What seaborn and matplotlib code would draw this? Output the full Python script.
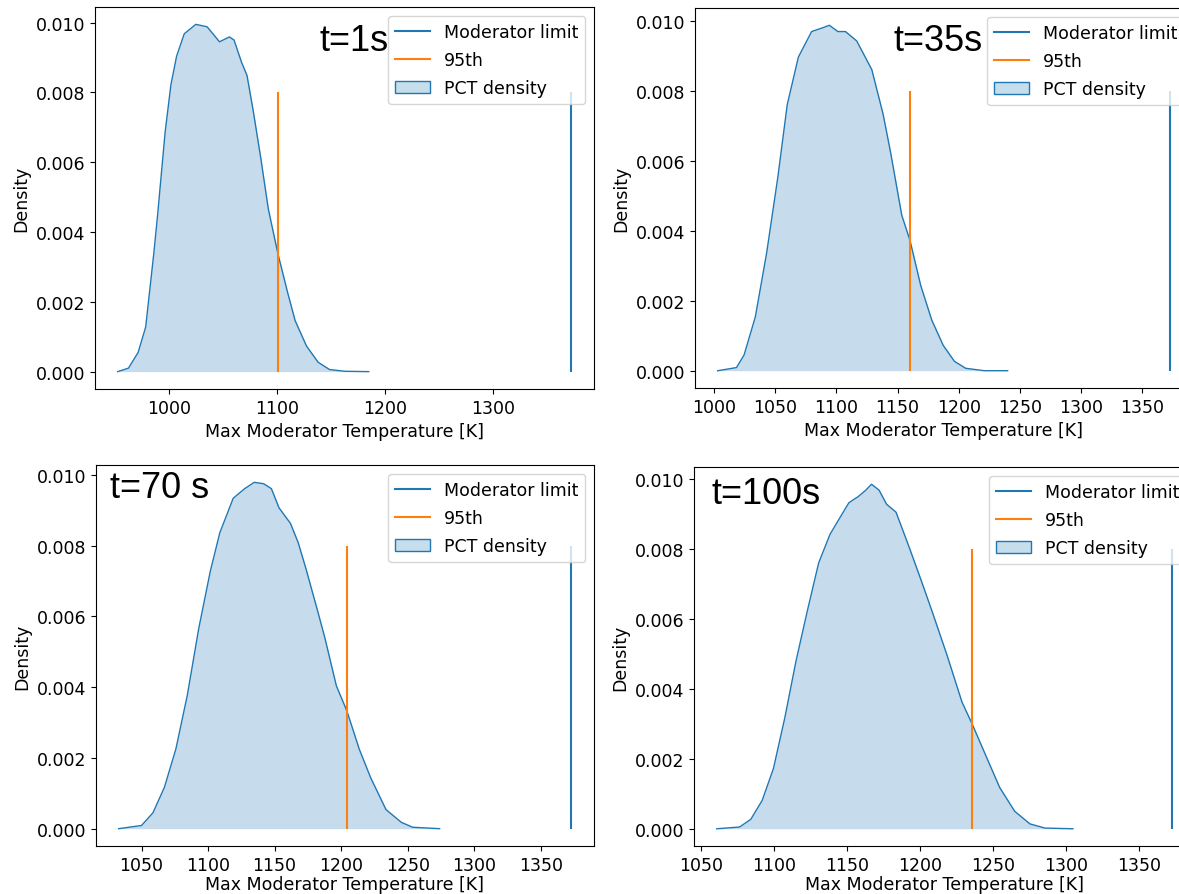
import numpy as np
import pandas as pd
import seaborn as sns
import matplotlib.pyplot as plt
from matplotlib.lines import Line2D
from matplotlib.patches import Patch

############## Data ##############

# Labels of the four time steps
time_labels = ['t=1s', 't=35s', 't=70 s', 't=100s']

# PCT density curves (temperature in K / density)
t1_temp = [952, 962, 971, 978, 985.5, 989, 996, 1001.4, 1006.7, 1013.8, 1024.5, 1035,
           1040.4, 1046.5, 1055.7, 1060, 1067, 1072, 1077.7, 1084.8, 1091.8, 1100.7,
           1109.6, 1116.7, 1127.3, 1138, 1148.6, 1162.8, 1185]
t1_density = [0.0, 0.0001, 0.00055, 0.00128, 0.00338, 0.00447, 0.00685, 0.00822, 0.00904,
              0.00968, 0.00995, 0.00988, 0.00968, 0.00945, 0.00959, 0.0095, 0.00886,
              0.00849, 0.00749, 0.00612, 0.00466, 0.00338, 0.00228, 0.00146, 0.00073,
              0.00027, 0.00006, 0.00001, 0.0]

t35_temp = [1003, 1018.4, 1024.6, 1033.8, 1043, 1052.2, 1059.9, 1069, 1079.8, 1089,
            1094.3, 1101.3, 1107.5, 1116.7, 1129, 1138.2, 1144.3, 1153.5, 1160.3, 1168.9,
            1178, 1187.3, 1196.5, 1205.7, 1221, 1240]
t35_density = [0.0, 0.00009, 0.00045, 0.00154, 0.00336, 0.00554, 0.00762, 0.00898, 0.00971,
               0.00982, 0.00989, 0.00971, 0.00971, 0.00944, 0.00862, 0.00735, 0.00626,
               0.00445, 0.00372, 0.00245, 0.00145, 0.00073, 0.00027, 0.00007, 0.0, 0.0]

t70_temp = [1032.8, 1050, 1058.6, 1067.2, 1075.8, 1084.4, 1093, 1101.7, 1108.8, 1118.9,
            1127.5, 1134.7, 1141.8, 1147.6, 1153.3, 1161.9, 1167.7, 1173.4, 1182, 1187.8,
            1196.4, 1204.4, 1213.6, 1222.2, 1233.7, 1245.2, 1253.8, 1274]
t70_density = [0.0, 0.00009, 0.00045, 0.00117, 0.00225, 0.00377, 0.00566, 0.00728, 0.00836,
               0.00934, 0.00961, 0.00979, 0.00975, 0.00961, 0.00907, 0.00863, 0.00809,
               0.00737, 0.0062, 0.00539, 0.00404, 0.00332, 0.00225, 0.00144, 0.00054,
               0.00018, 0.00004, 0.0]

t100_temp = [1061, 1076.6, 1084.3, 1092.1, 1099.8, 1107.6, 1115.3, 1123.1, 1130.8, 1138.6,
             1146.3, 1151.5, 1158, 1163.1, 1167, 1172.2, 1177.3, 1183.8, 1192.8, 1200.6,
             1208.3, 1218.6, 1229, 1236, 1244.5, 1254.8, 1265.1, 1275.5, 1285.8, 1305]
t100_density = [0.0, 0.00005, 0.00027, 0.00081, 0.00172, 0.00317, 0.0048, 0.00624, 0.0076,
                0.00842, 0.00896, 0.00932, 0.0095, 0.00968, 0.00985, 0.00968, 0.00928,
                0.00905, 0.00805, 0.00715, 0.00624, 0.00498, 0.00362, 0.00299, 0.00217,
                0.00118, 0.0005, 0.00014, 0.00002, 0.0]

# 95th percentile of each time step and the moderator limit
p95 = [1100.5, 1160, 1204.5, 1236]
moderator_limit = 1373
line_top = 0.008

curves = [(t1_temp, t1_density), (t35_temp, t35_density),
          (t70_temp, t70_density), (t100_temp, t100_density)]

############## Layout ##############

W, H = 1179, 895
# axes boxes in pixels: left, top, right, bottom
boxes = [(95, 8, 594, 390), (695, 9, 1193, 389),
         (96, 466, 594, 847), (694, 468, 1195, 847)]
# position of the time label in axes coordinates
label_pos = [(0.45, 0.887), (0.398, 0.89), (0.028, 0.915), (0.034, 0.905)]

plt.rcParams['font.size'] = 12.5
fig = plt.figure(figsize=(W / 100, H / 100), dpi=100)

for i, (temp, dens) in enumerate(curves):
    l, t, r, b = boxes[i]
    ax = fig.add_axes([l / W, 1 - b / H, (r - l) / W, (b - t) / H])

    df = pd.DataFrame({'temp': temp, 'density': dens})
    # Filled density curve
    sns.lineplot(data=df, x='temp', y='density', ax=ax, color='C0', linewidth=1)
    ax.fill_between(df['temp'], df['density'], color='C0', alpha=0.25, linewidth=0)

    # Moderator limit and 95th percentile lines
    ax.vlines(moderator_limit, 0, line_top, color='C0')
    ax.vlines(p95[i], 0, line_top, color='C1')

    # Bottom row: the label sits close to the lower edge of the picture
    ax.set_xlabel('Max Moderator Temperature [K]', labelpad=4 if i < 2 else 1)
    ax.set_ylabel('Density')

    handles = [Line2D([], [], color='C0', linewidth=1.5),
               Line2D([], [], color='C1', linewidth=1.5),
               Patch(facecolor=(0.12, 0.47, 0.71, 0.25), edgecolor='C0')]
    ax.legend(handles, ['Moderator limit', '95th', 'PCT density'], loc='upper right',
              labelspacing=0.6)

    # Big time label, drawn over the legend frame
    ax.text(label_pos[i][0], label_pos[i][1], time_labels[i], transform=ax.transAxes,
            fontsize=26, family='Liberation Sans', va='baseline', ha='left', zorder=6)

fig.savefig('out.png', dpi=100)
